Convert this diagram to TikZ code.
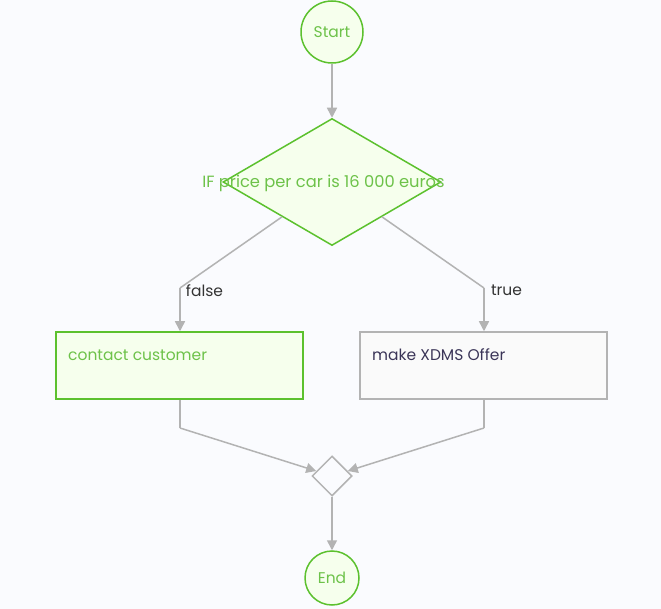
\documentclass[tikz,border=0pt]{standalone}
\usepackage{fontspec}
\setmainfont{Poppins}
\usetikzlibrary{shapes.geometric,arrows.meta}
\definecolor{bg}{HTML}{FAFBFE}
\definecolor{gstroke}{HTML}{5CC12E}
\definecolor{gfill}{HTML}{F6FFED}
\definecolor{gtext}{HTML}{6DC249}
\definecolor{lgray}{HTML}{B3B3B3}
\definecolor{bfill}{HTML}{FAFAFA}
\definecolor{ptext}{HTML}{3B3558}
\definecolor{ltext}{HTML}{333333}
\tikzset{
  txt/.style={font=\fontsize{15.5}{18}\selectfont},
  term/.style={circle, draw=gstroke, fill=gfill, line width=1.5pt, text=gtext, txt, inner sep=0pt, text depth=0pt},
  decision/.style={diamond, draw=gstroke, fill=gfill, line width=1.5pt, inner sep=0pt},
  merge/.style={diamond, draw=lgray, fill=bg, line width=1.5pt, inner sep=0pt, minimum width=40pt, minimum height=40pt},
  greenbox/.style={rectangle, draw=gstroke, fill=gfill, line width=1.5pt, minimum width=247pt, minimum height=67pt, inner sep=0pt},
  graybox/.style={rectangle, draw=lgray, fill=bfill, line width=1.5pt, minimum width=247pt, minimum height=67pt, inner sep=0pt},
  btext/.style={txt, inner sep=0pt, anchor=west},
  elabel/.style={txt, text=ltext, inner sep=0pt},
  conn/.style={draw=lgray, line width=1.5pt},
  arr/.style={conn, -{Triangle[length=10pt,width=10pt]}}
}
\begin{document}
\begin{tikzpicture}[x=1pt,y=-1pt]
\useasboundingbox[fill=bg] (0,0) rectangle (661,609);
\node[term, minimum size=62pt] (start) at (332,32) {Start};
\node[decision, minimum width=218pt, minimum height=127pt] (dec) at (332,182) {};
\node[font=\fontsize{16.3}{19}\selectfont, text=gtext, inner sep=0pt] (dectxt) at (323.5,183.5) {IF price per car is 16 000 euros};
\node[greenbox] (cc) at (179.5,365.5) {};
\node[btext, text=gtext] (cctxt) at (68,355) {contact customer};
\node[graybox] (mx) at (483.5,365.5) {};
\node[btext, text=ptext] (mxtxt) at (372,355) {make XDMS Offer};
\node[merge] (mg) at (332,476) {};
\node[term, minimum size=54pt] (end) at (332,578) {End};
\coordinate (fb) at (180,288);
\coordinate (tb) at (484,288);
\coordinate (lb) at (180,428);
\coordinate (rb) at (484,428);
\node[elabel] (fl) at (204.5,290.5) {false};
\node[elabel] (tl) at (506.5,290.5) {true};
\draw[arr] (start) -- (dec);
\draw[conn] (dec) -- (fb);
\draw[arr] (fb) -- (fb |- cc.north);
\draw[conn] (dec) -- (tb);
\draw[arr] (tb) -- (tb |- mx.north);
\draw[conn] (fb |- cc.south) -- (lb);
\draw[arr] (lb) -- (mg);
\draw[conn] (tb |- mx.south) -- (rb);
\draw[arr] (rb) -- (mg);
\draw[arr] (mg) -- (end);
\end{tikzpicture}
\end{document}
